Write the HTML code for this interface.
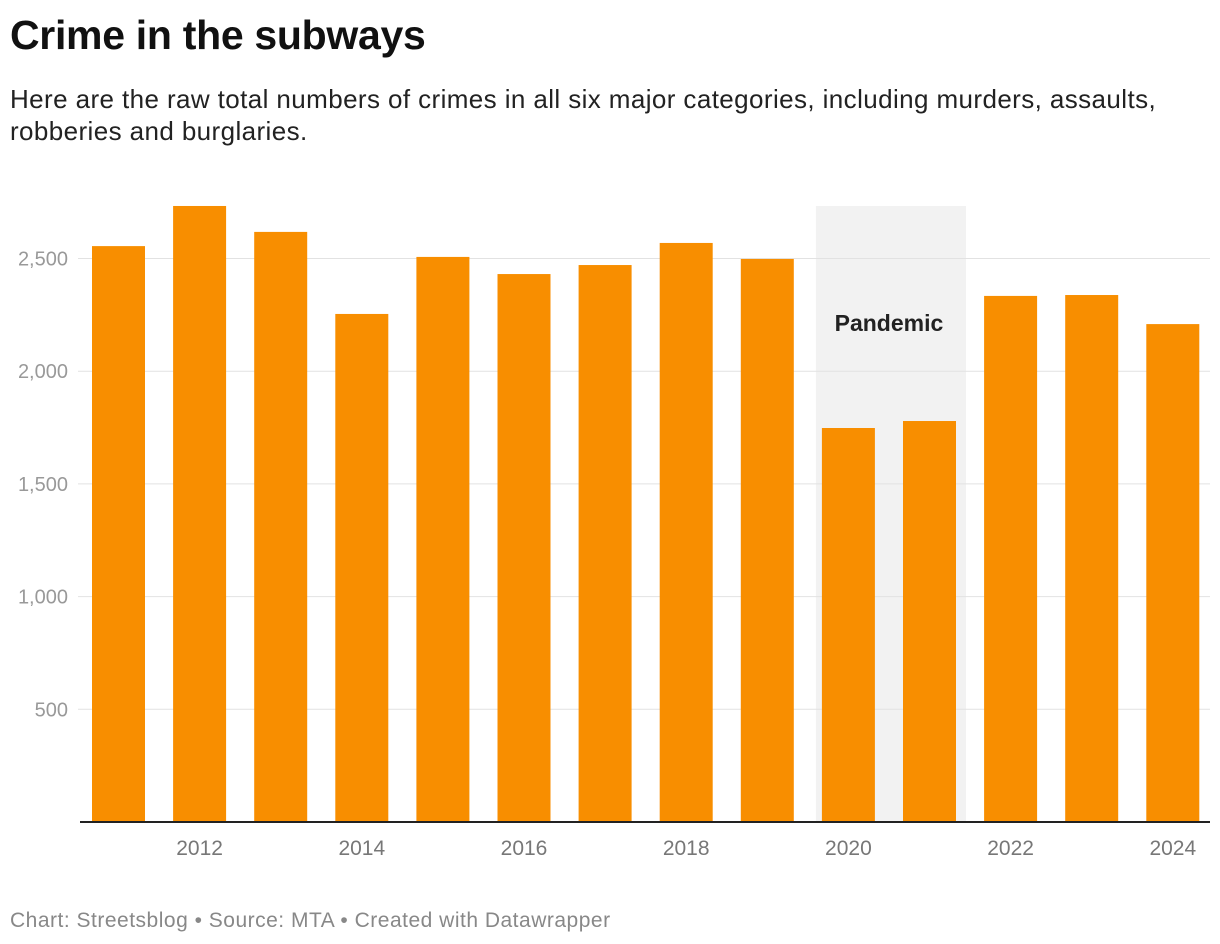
<!DOCTYPE html>
<html><head><meta charset="utf-8"><style>
body{margin:0;background:#fff;font-family:"Liberation Sans",sans-serif;}
#title{position:absolute;left:10px;top:12px;font-size:41px;font-weight:bold;color:#111;letter-spacing:-0.3px;}
#sub{position:absolute;left:10px;top:83px;font-size:26px;color:#222;line-height:32px;width:1205px;letter-spacing:0.4px;}
#foot{position:absolute;left:10px;top:909px;font-size:21px;color:#888;letter-spacing:0.5px;}
svg{position:absolute;left:0;top:0;}
</style></head><body>
<div id="title">Crime in the subways</div>
<div id="sub">Here are the raw total numbers of crimes in all six major categories, including murders, assaults, robberies and burglaries.</div>
<svg id="chart" width="1220" height="944"></svg>
<div id="foot">Chart: Streetsblog • Source: MTA • Created with Datawrapper</div>
<script>
const years=[2011,2012,2013,2014,2015,2016,2017,2018,2019,2020,2021,2022,2023,2024];
const values=[2555,2733,2618,2254,2507,2431,2471,2569,2498,1748,1779,2334,2338,2209];
const yTicks=[500,1000,1500,2000,2500];
const yTickLabels=["500","1,000","1,500","2,000","2,500"];
const xTickYears=[2012,2014,2016,2018,2020,2022,2024];
const NS="http://www.w3.org/2000/svg";
const svg=document.getElementById('chart');
const y0=822,k=0.2254;
const yS=v=>y0-v*k;
const xS=yr=>92+(yr-2011)*81.1;
const bw=53;
function mk(t,a){const e=document.createElementNS(NS,t);for(const n in a)e.setAttribute(n,a[n]);svg.appendChild(e);return e;}
const sh=mk('rect',{x:xS(2020)-6,y:yS(2733),width:xS(2021)+bw+10-(xS(2020)-6),height:y0-yS(2733),fill:'#f2f2f2'});


yTicks.forEach((v,i)=>{
 const g=mk('line',{x1:78,x2:1210,y1:yS(v),y2:yS(v),stroke:'#e2e2e2','stroke-width':1});
 
 
 const t=mk('text',{x:68,y:yS(v)+7,'text-anchor':'end','font-size':20,fill:'#999','font-family':'Liberation Sans, sans-serif'});
 t.textContent=yTickLabels[i];
 
 
});
years.forEach((yr,i)=>{
 const r=mk('rect',{x:xS(yr),y:yS(values[i]),width:bw,height:y0-yS(values[i]),fill:'#f88e00'});
 
 
});
xTickYears.forEach(yr=>{
 const t=mk('text',{x:xS(yr)+bw/2,y:855,'text-anchor':'middle','font-size':21,fill:'#777','font-family':'Liberation Sans, sans-serif'});
 t.textContent=yr;
 
 
});
const b=mk('line',{x1:80,x2:1210,y1:y0,y2:y0,stroke:'#222','stroke-width':2});


const pl=mk('text',{x:(xS(2020)+xS(2021)+bw)/2,y:331,'text-anchor':'middle','font-size':23,'font-weight':'bold',fill:'#222','font-family':'Liberation Sans, sans-serif'});
pl.textContent='Pandemic';


</script>
</body></html>
